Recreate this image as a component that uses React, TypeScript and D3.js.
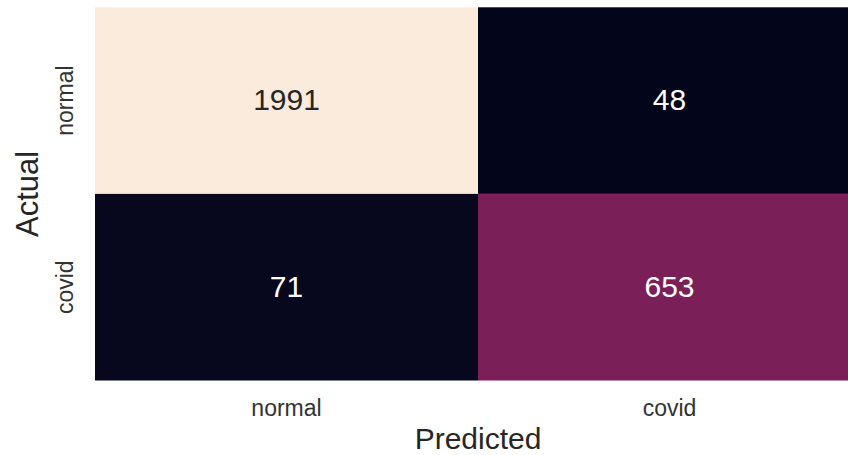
import React from "react";
import * as d3 from "d3";

const predictedLabels = ["normal", "covid"];
const actualLabels = ["normal", "covid"];
const matrix = [
  [1991, 48],
  [71, 653],
];
// rocket-like colormap stops
const rocketStops = ["#03051A", "#221331", "#451C47", "#761F57", "#9A1C5B", "#B9185A", "#DD2C45", "#F06043", "#F5946B", "#F6C19F", "#FAEBDD"];

const W = 848;
const H = 455;
const left = 95;
const top = 7.3;
const cellW = 383;
const bottom = 380.5;

export default function App() {
  const x = d3.scaleBand<string>().domain(predictedLabels).range([left, left + cellW * 2]);
  const y = d3.scaleBand<string>().domain(actualLabels).range([top, bottom]);
  const flat = matrix.flat();
  const ext = d3.extent(flat) as [number, number];
  const color = d3.scaleSequential(d3.piecewise(d3.interpolateRgb, rocketStops)).domain(ext);
  const font = "'Liberation Sans', Arial, sans-serif";
  const cells: { r: string; c: string; v: number }[] = [];
  actualLabels.forEach((r, i) => predictedLabels.forEach((c, j) => cells.push({ r, c, v: matrix[i][j] })));
  const mid = (ext[0] + ext[1]) / 2;
  return (
    <svg width={W} height={H} style={{ position: "absolute", left: 0, top: 0, background: "#fff" }} fontFamily={font}>
      {cells.map((d, k) => (
        <rect key={"r" + k} x={x(d.c)} y={y(d.r)} width={x.bandwidth()} height={y.bandwidth()} fill={color(d.v)} />
      ))}
      {cells.map((d, k) => (
        <text
          key={"t" + k}
          x={(x(d.c) as number) + x.bandwidth() / 2}
          y={(y(d.r) as number) + y.bandwidth() / 2 + 9.5}
          textAnchor="middle"
          fontSize={30}
          fill={d.v > mid ? "#262626" : "#ffffff"}
        >
          {d.v}
        </text>
      ))}
      {predictedLabels.map((l) => (
        <text key={"x" + l} x={(x(l) as number) + x.bandwidth() / 2} y={416} textAnchor="middle" fontSize={23} fill="#333">
          {l}
        </text>
      ))}
      {actualLabels.map((l) => {
        const cy = (y(l) as number) + y.bandwidth() / 2;
        return (
          <text key={"y" + l} transform={`translate(73,${cy}) rotate(-90)`} textAnchor="middle" fontSize={23} fill="#333">
            {l}
          </text>
        );
      })}
      <text x={left + cellW} y={448.5} textAnchor="middle" fontSize={30} fill="#262626">
        Predicted
      </text>
      <text transform={`translate(38,${(top + bottom) / 2}) rotate(-90)`} textAnchor="middle" fontSize={31} fill="#262626">
        Actual
      </text>
    </svg>
  );
}
